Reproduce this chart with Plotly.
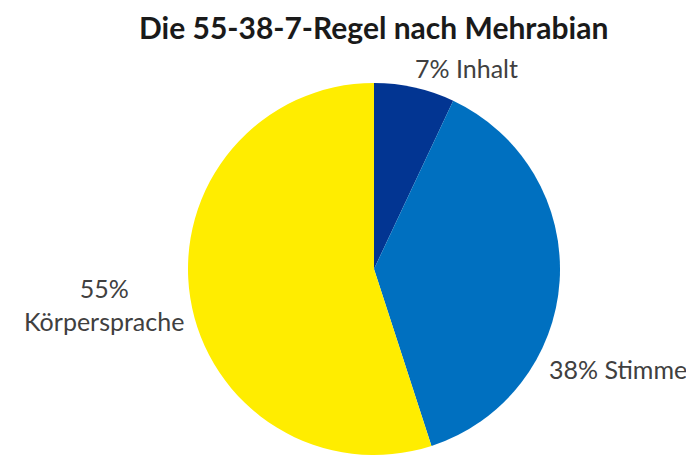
import plotly.graph_objects as go

W, H = 694, 457
title = "Die 55-38-7-Regel nach Mehrabian"
categories = ["Inhalt", "Stimme", "Körpersprache"]
values = [7, 38, 55]
colors = ["#023592", "#0070C0", "#FFED00"]
label_texts = ["7% Inhalt", "38% Stimme", "55%<br>Körpersprache"]

OFF = 8  # page body margin

def px(x):
    return (x - OFF) / W

def py(y):
    return 1 - (y - OFF) / H

fig = go.Figure(go.Pie(
    labels=categories,
    values=values,
    marker=dict(colors=colors, line=dict(width=0)),
    sort=False,
    direction="clockwise",
    rotation=0,
    textinfo="none",
    hoverinfo="label+percent",
    showlegend=False,
    domain=dict(x=[px(186), px(562)], y=[py(455), py(83)]),
))

font_lbl = dict(family="Lato, Open Sans, sans-serif", size=25, color="#404040")
positions = [(466, 68), (618, 369), (104, 304)]
for t, (x, y) in zip(label_texts, positions):
    fig.add_annotation(text=t, x=px(x), y=py(y), xref="paper", yref="paper",
                       showarrow=False, font=font_lbl, xanchor="center", yanchor="middle",
                       align="center")

fig.add_annotation(text="<b>" + title + "</b>", x=px(373), y=1.0, xref="paper", yref="paper",
                   showarrow=False, xanchor="center", yanchor="top", borderpad=0,
                   font=dict(family="Lato, Open Sans, sans-serif", size=30, color="#1a1a1a"))

fig.update_layout(width=W, height=H, margin=dict(l=0, r=0, t=0, b=0),
                  paper_bgcolor="white", plot_bgcolor="white")

fig.write_html("out.html")
